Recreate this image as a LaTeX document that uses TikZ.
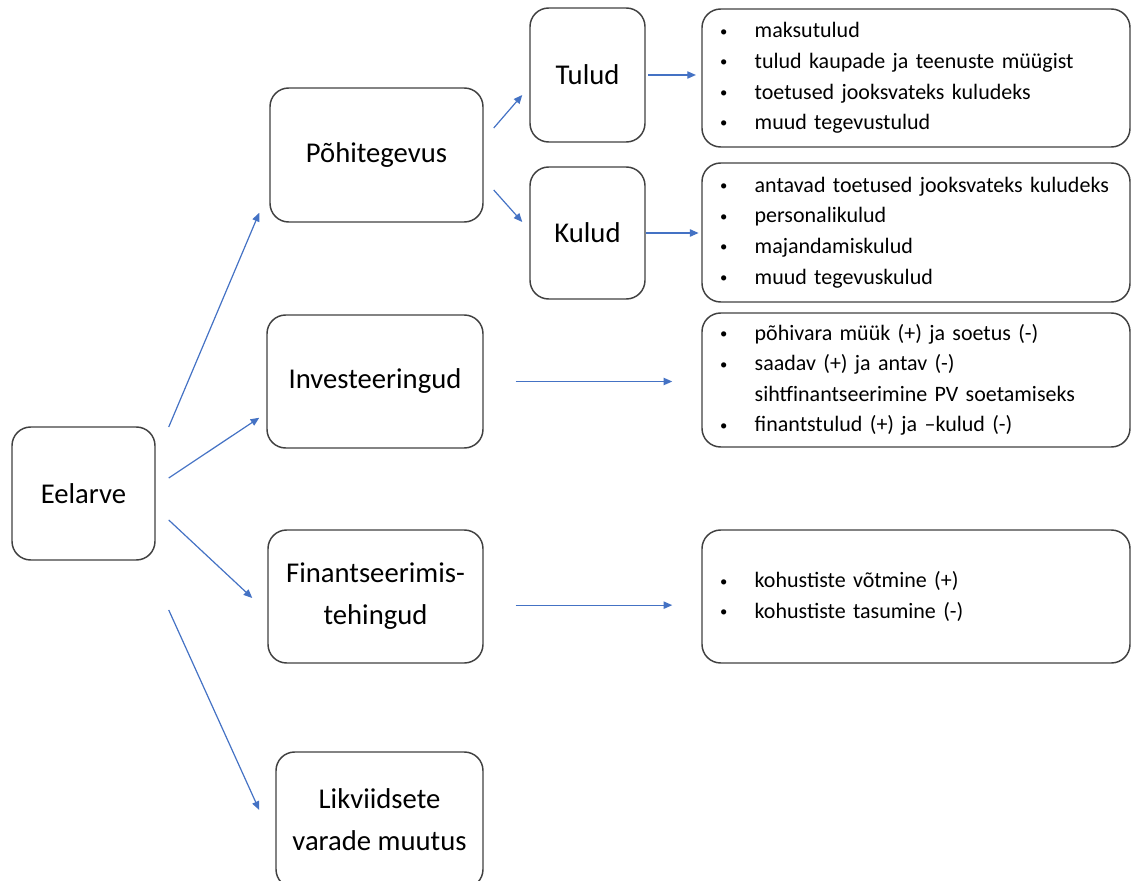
\documentclass[tikz,border=0pt]{standalone}
\usepackage{fontspec}
\setmainfont{Carlito}
\usepackage{tikz}
\usepackage{xcolor}
\usetikzlibrary{arrows.meta}
\definecolor{linkblue}{RGB}{68,114,196}
\definecolor{boxline}{RGB}{64,64,64}
\newcommand{\bul}{\makebox[26pt][l]{\raisebox{1.2pt}{\fontsize{11}{11}\selectfont\textbullet}}}

\begin{document}
\begin{tikzpicture}[x=0.75pt,y=-0.75pt,
    box/.style={draw=boxline, line width=1.1pt, rounded corners=14pt, align=center, inner sep=0pt,
                font=\fontsize{21.5}{31.5}\selectfont},
    listbox/.style={draw=boxline, line width=1.1pt, rounded corners=14pt, align=left, inner ysep=0pt,
                inner xsep=13.5pt, text width=294pt, font=\fontsize{16.5}{22.9}\selectfont},
    link/.style={draw=linkblue, line width=0.9pt, -{Triangle[length=6.5pt,width=5.5pt]}}]
                % Page size
                \useasboundingbox (0,0) rectangle (1133,881);
                \clip (0,0) rectangle (1133,881);

                % Main boxes
                \node[box, minimum width=107.25pt, minimum height=99.75pt] (eelarve) at (83.5,493.5) {Eelarve};
                \node[box, minimum width=159.75pt, minimum height=100.5pt] (pohi) at (376.5,155) {Põhitegevus};
                \node[box, minimum width=162pt, minimum height=99.75pt] (invest) at (375,381.5) {Investeeringud};
                \node[box, minimum width=161.25pt, minimum height=99.75pt] (finants) at (375.5,596.5) {Finantseerimis-\\tehingud};
                \node[box, minimum width=155.25pt, minimum height=102pt] (likv) at (379.5,820) {Likviidsete\\varade muutus};
                % Tulud, kulud
                \node[box, minimum width=86.25pt, minimum height=100.5pt] (tulud) at (587.5,75) {Tulud};
                \node[box, minimum width=86.25pt, minimum height=99pt] (kulud) at (587.5,233) {Kulud};

                % Lists
                \node[listbox, minimum height=103.5pt] (tululist) at (916,78) {%
                    \bul maksutulud\\
                    \bul tulud kaupade ja teenuste müügist\\
                    \bul toetused jooksvateks kuludeks\\
                    \bul muud tegevustulud};
                \node[listbox, minimum height=104.25pt] (kululist) at (916,232.5) {%
                    \bul antavad toetused jooksvateks kuludeks\\
                    \bul personalikulud\\
                    \bul majandamiskulud\\
                    \bul muud tegevuskulud};
                \node[listbox, minimum height=100.5pt] (invlist) at (916,380) {%
                    \bul põhivara müük (+) ja soetus (-)\\
                    \bul saadav (+) ja antav (-)\\
                    \hspace*{26pt}sihtfinantseerimine PV soetamiseks\\
                    \bul finantstulud (+) ja –kulud (-)};
                \node[listbox, minimum height=99.75pt] (finlist) at (916,596.5) {%
                    \bul kohustiste võtmine (+)\\
                    \bul kohustiste tasumine (-)};

                % Eelarve arrows
                \draw[link] ([shift={(13,-66.5)}]eelarve.east) -- ([shift={(-10,-10)}]pohi.south west);
                \draw[link] ([shift={(13,-15.5)}]eelarve.east) -- ([shift={(-7,-31)}]invest.south west);
                \draw[link] ([shift={(13,26.5)}]eelarve.east) -- ([shift={(-15,1.5)}]finants.west);
                \draw[link] ([shift={(13,116.5)}]eelarve.east) -- ([shift={(-16,-10)}]likv.west);
                % Pohitegevus arrows
                \draw[link] ([shift={(10,-27)}]pohi.east) -- ([shift={(-7,20)}]tulud.west);
                \draw[link] ([shift={(10,35)}]pohi.east) -- ([shift={(-7,-11)}]kulud.west);
                % Arrows to lists
                \draw[link, shorten <=2pt, shorten >=4pt] (tulud.east) -- (tulud.east -| tululist.west);
                \draw[link, shorten >=2pt] (kulud.east) -- (kulud.east -| kululist.west);
                \draw[link, shorten <=24pt, shorten >=21.75pt] (invest.east) -- (invest.east -| invlist.west);
                \draw[link, shorten <=24pt, shorten >=21.75pt] ([yshift=-6.5]finants.east) -- ([yshift=-6.5]finants.east -| finlist.west);
            \end{tikzpicture}
\end{document}
